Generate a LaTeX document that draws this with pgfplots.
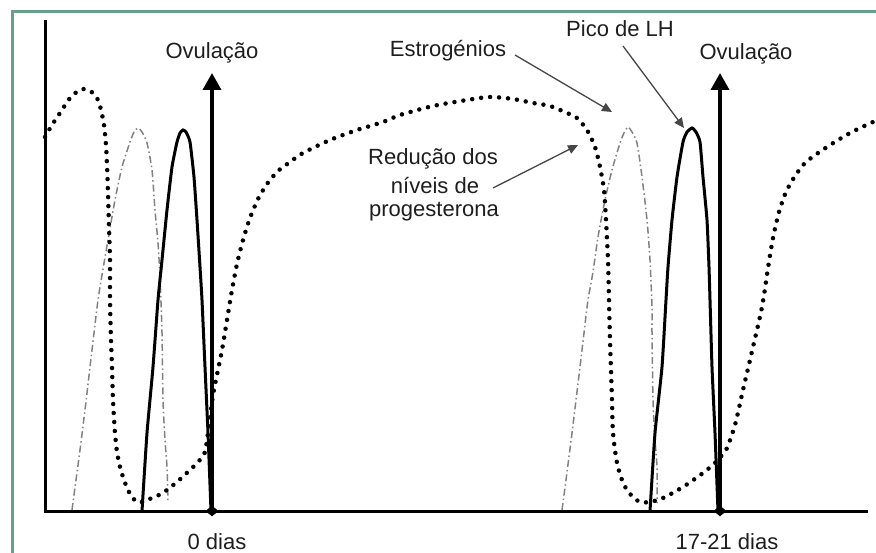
\documentclass[border=0pt]{standalone}
\usepackage{pgfplots}
\pgfplotsset{compat=1.18}
\usepackage{fontspec}
\setmainfont{Liberation Sans}
\usetikzlibrary{arrows.meta}
\definecolor{framegreen}{RGB}{104,160,138}
\definecolor{txt}{RGB}{30,30,30}
\definecolor{estro}{RGB}{130,130,130}
\definecolor{annot}{RGB}{70,70,70}
\begin{document}
\begin{tikzpicture}
\begin{axis}[width=876pt,height=553pt,scale only axis,
  xmin=0,xmax=876,ymin=0,ymax=553,y dir=reverse,
  axis line style={draw=none}, ticks=none, clip=true, clip mode=individual]
% frame
\addplot[framegreen, line width=3pt] coordinates {(12,600) (12,12) (900,12)};
% axes
\addplot[black, line width=3pt] coordinates {(45,20) (45,511) (868,511)};
% estrogen
\addplot[estro, line width=1.5pt, dash pattern=on 7pt off 3pt on 1.5pt off 3pt, smooth, tension=0.4] coordinates {
(72,510) (76,480) (80,450) (85,410) (90,367) (94,333) (98,300) (102,275) (108,240) (115,200) (122,167) (130,142) (134,132) (138,128) (142,132) (147,143) (152,170) (155,210) (158,243) (160,277) (162,333) (163,400) (165,440) (167,467) (168,503)};
\addplot[estro, line width=1.5pt, dash pattern=on 7pt off 3pt on 1.5pt off 3pt, smooth, tension=0.4] coordinates {
(562,510) (566,480) (572,433) (576,400) (580,367) (584,333) (588,300) (593,272) (598,237) (605,200) (612,170) (620,143) (624,133) (628,127) (632,132) (637,143) (642,177) (647,220) (650,260) (652,307) (652,333) (653,400) (655,440) (657,467) (657,503)};
% LH
\addplot[black, line width=3pt, smooth, tension=0.3] coordinates {
(142,511) (147,433) (153,367) (158,300) (162,260) (167,210) (172,167) (177,142) (180,133) (183,130) (186,132) (190,142) (194,177) (197,220) (200,267) (202,300) (205,367) (208,433) (211,511)};
\addplot[black, line width=3pt, smooth, tension=0.3] coordinates {
(650,511) (655,433) (662,367) (666,300) (668,267) (672,220) (677,177) (683,142) (687,132) (692,128) (696,132) (700,142) (703,177) (707,220) (709,267) (710,300) (712,367) (715,433) (718,511)};
% progesterone
\addplot[black, line width=4.5pt, line cap=round, dash pattern=on 0pt off 9pt, smooth, tension=0.45] coordinates {
(45,137) (52,125) (60,113) (70,98) (78,91) (83,89) (88,90) (93,93) (98,100) (101,110) (104,125) (106,145) (107,165) (108,193) (109,227) (110,260) (110,300) (111,340) (112,367) (113,400) (115,433) (117,452) (120,467) (124,480) (128,490) (132,497) (137,502) (142,502) (147,500) (157,496) (167,490) (178,481) (190,470) (198,462) (205,452) (209,425) (213,395) (218,370) (222,350) (227,320) (232,290) (237,264) (243,240) (250,218) (258,199) (267,184) (278,171) (290,162) (303,153) (330,140) (357,130) (383,122) (400,115) (433,106) (467,100) (490,97) (513,99) (533,103) (550,106) (567,113) (577,118) (587,130) (595,147) (600,167) (604,190) (606,220) (608,260) (609,300) (610,340) (611,370) (612,400) (613,433) (617,463) (622,480) (627,490) (633,497) (640,502) (650,502) (663,498) (683,487) (703,473) (715,463) (722,455) (727,448) (735,425) (743,390) (753,347) (762,307) (768,268) (773,238) (779,212) (786,192) (795,176) (806,162) (827,147) (850,133) (873,122) (880,120)};
% ovulation arrows
\addplot[black, line width=3.5pt, -{Triangle[width=18pt,length=17pt]}] coordinates {(212,511) (212,73)};
\addplot[black, line width=3.5pt, -{Triangle[width=18pt,length=17pt]}] coordinates {(720,511) (720,73)};
\addplot[black, only marks, mark=diamond*, mark size=5pt, mark options={xscale=1.6}] coordinates {(212,511) (720,511)};
% annotation arrows
\draw[annot, line width=1.3pt, -{Triangle[width=9pt,length=10pt]}] (axis cs:515,55) -- (axis cs:612,112);
\draw[annot, line width=1.3pt, -{Triangle[width=9pt,length=10pt]}] (axis cs:623,46) -- (axis cs:684,128);
\draw[annot, line width=1.3pt, -{Triangle[width=9pt,length=10pt]}] (axis cs:493,188) -- (axis cs:578,145);
% texts
\tikzset{lbl/.style={font=\fontsize{22}{26}\selectfont, anchor=base, text=txt, inner sep=0pt}}
\node[lbl] at (axis cs:212,59) {Ovulação};
\node[lbl] at (axis cs:746,60) {Ovulação};
\node[lbl] at (axis cs:620,37) {Pico de LH};
\node[lbl] at (axis cs:448,57) {Estrogénios};
\node[lbl] at (axis cs:433,165) {Redução dos};
\node[lbl] at (axis cs:435,194) {níveis de};
\node[lbl] at (axis cs:434,217) {progesterona};
\node[lbl] at (axis cs:217,549) {0 dias};
\node[lbl] at (axis cs:727,549) {17-21 dias};
\end{axis}
\end{tikzpicture}
\end{document}
